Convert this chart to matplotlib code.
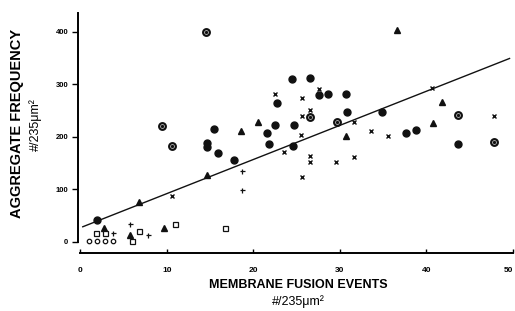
import numpy as np
import matplotlib.pyplot as plt

plt.rcParams['font.family'] = ['Liberation Sans', 'DejaVu Sans']

## data (x = fusion events, y = aggregate frequency)
dot_x = [1.9, 14.6, 14.6, 15.5, 15.9, 17.8, 21.6, 21.8, 22.5, 22.7, 24.5, 24.6,
         24.7, 26.5, 27.6, 28.6, 30.7, 30.8, 34.9, 37.6, 38.8, 43.7]
dot_y = [42, 188, 181, 215, 169, 156, 208, 187, 223, 265, 311, 183,
         223, 312, 280, 281, 281, 248, 247, 207, 213, 187]

ring_x = [9.5, 10.6, 14.5, 26.6, 29.7, 43.6, 47.8]
ring_y = [220, 183, 400, 237, 228, 242, 191]

tri_x = [2.8, 5.8, 6.8, 9.7, 14.6, 18.6, 20.6, 30.7, 36.6, 40.8, 41.8]
tri_y = [27, 13, 77, 26, 127, 212, 229, 202, 404, 226, 267]

cross_x = [10.6, 22.5, 23.6, 25.5, 25.6, 25.6, 25.6, 26.5, 26.6, 26.6, 27.6,
           29.6, 31.6, 31.6, 33.6, 35.6, 40.6, 47.8]
cross_y = [88, 282, 172, 204, 239, 275, 123, 251, 164, 153, 291,
           153, 161, 229, 211, 202, 294, 239]

plus_x = [3.8, 5.7, 7.8, 18.7, 18.7]
plus_y = [18, 34, 13, 136, 99]

sq_x = [1.8, 2.9, 6.0, 6.8, 10.9, 16.7]
sq_y = [16.5, 16.5, 1, 21.5, 34, 26]

open_x = [1.0, 1.9, 2.9, 3.8]
open_y = [1, 1, 1, 1]

## regression line
fit_a = 27.0
fit_b = 6.5
fit_x = np.array([0.3, 49.6])

fig = plt.figure(figsize=(5.15, 3.11), dpi=100)
ax = fig.add_axes([78/515, 58/311, 435/515, 250/311])

ax.plot(fit_x, fit_a + fit_b*fit_x, color='#111111', lw=1.0, zorder=1)

ax.plot(dot_x, dot_y, 'o', ms=5.0, color='#111111', mec='#111111', ls='none')
ax.plot(ring_x, ring_y, 'o', ms=4.8, mfc='white', mec='#111111', mew=1.6, ls='none')
ax.plot(ring_x, ring_y, 'o', ms=1.4, color='#111111', ls='none')
ax.plot(tri_x, tri_y, '^', ms=4.8, color='#111111', ls='none')
ax.plot(cross_x, cross_y, 'x', ms=3.0, mew=1.0, color='#111111', ls='none')
ax.plot(plus_x, plus_y, '+', ms=3.6, mew=0.9, color='#111111', ls='none')
ax.plot(sq_x, sq_y, 's', ms=3.6, mfc='white', mec='#111111', mew=0.9, ls='none')
ax.plot(open_x, open_y, 'o', ms=3.2, mfc='white', mec='#111111', mew=0.9, ls='none')

ax.set_xlim(-0.25, 50)
ax.set_ylim(-21, 455)

for s in ['top', 'right']:
    ax.spines[s].set_visible(False)
ax.spines['left'].set_linewidth(1.4)
ax.spines['bottom'].set_linewidth(1.4)
ax.spines['left'].set_bounds(0, 436)
ax.spines['bottom'].set_bounds(0, 50)

ax.set_yticks([0, 100, 200, 300, 400])
ax.set_yticklabels(['0', '100', '200', '300', '400'], fontsize=5.5, fontweight='bold')
ax.set_xticks([0, 10, 20, 30, 40, 50])
ax.set_xticklabels(['0', '10', '20', '30', '40', '50'], fontsize=6, fontweight='bold')
ax.get_xticklabels()[-1].set_horizontalalignment('right')
ax.tick_params(axis='y', direction='out', length=4, width=1, pad=3)
ax.tick_params(axis='x', direction='in', length=3, width=1, pad=10)

fig.text(17/515, 1 - 123/311, 'AGGREGATE FREQUENCY', rotation=90, ha='center',
         va='center', fontsize=10.5, fontweight='bold')
fig.text(36/515, 1 - 125/311, '#/235\u03bcm\u00b2', rotation=90, ha='center',
         va='center', fontsize=9)
fig.text(298/515, 1 - 285/311, 'MEMBRANE FUSION EVENTS', ha='center',
         va='center', fontsize=9, fontweight='bold')
fig.text(298/515, 1 - 302/311, '#/235\u03bcm\u00b2', ha='center',
         va='center', fontsize=9)

fig.savefig('out.png', dpi=100)
